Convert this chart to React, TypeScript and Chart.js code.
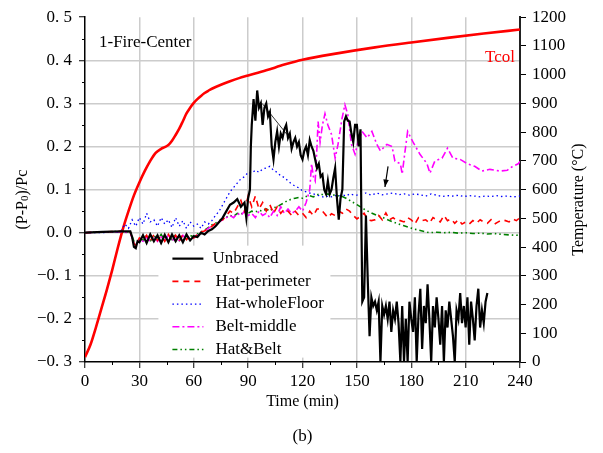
import { useEffect, useRef } from "react";
import { Chart, registerables } from "chart.js";

Chart.register(...registerables);

const FONT = "'Liberation Serif', 'Times New Roman', serif";

// ---------- data ----------
const unbracedT = [0, 10, 20, 25, 26, 27, 28, 29, 30, 32, 34, 36, 38, 40, 42, 44, 46, 48, 50, 52, 54, 56, 58, 60, 62, 64, 66, 68, 70, 72, 74, 76, 78, 80, 82, 84, 86, 88, 89, 90, 91, 91.5, 92, 93, 94, 95, 96, 97, 98, 99, 100, 101, 102, 103, 104, 105, 106, 107, 108, 109, 110, 111, 112, 113, 114, 115, 116, 117, 118, 119, 120, 121, 122, 123, 124, 125, 126, 127, 128, 129, 130, 131, 132, 133, 134, 135, 136, 137, 138, 139, 140, 141, 142, 143, 144, 145, 146, 147, 148, 149, 150, 151, 152, 152.5, 153, 154, 155, 156, 157, 158, 159, 160, 161, 162, 163, 164, 165, 166, 167, 168, 169, 170, 171, 172, 173, 174, 175, 176, 177, 178, 179, 180, 181, 182, 183, 184, 185, 186, 187, 188, 189, 190, 191, 192, 193, 194, 195, 196, 197, 198, 199, 200, 201, 202, 203, 204, 205, 206, 207, 208, 209, 210, 211, 212, 213, 214, 215, 216, 217, 218, 219, 220, 221, 222];
const unbracedP = [0.0, 0.002, 0.003, 0.003, -0.01, -0.033, -0.036, -0.02, -0.022, -0.006, -0.024, -0.004, -0.02, -0.006, -0.024, -0.005, -0.022, -0.004, -0.02, -0.006, -0.022, -0.004, -0.018, -0.008, -0.01, 0.0, -0.004, 0.004, 0.008, 0.015, 0.025, 0.035, 0.05, 0.065, 0.07, 0.078, 0.06, 0.07, 0.035, 0.08, 0.1, 0.2, 0.25, 0.31, 0.26, 0.33, 0.29, 0.3, 0.25, 0.29, 0.3, 0.27, 0.28, 0.2, 0.17, 0.21, 0.235, 0.2, 0.23, 0.22, 0.24, 0.25, 0.22, 0.23, 0.195, 0.21, 0.22, 0.2, 0.21, 0.18, 0.17, 0.19, 0.2, 0.18, 0.215, 0.2, 0.19, 0.17, 0.15, 0.16, 0.13, 0.135, 0.1, 0.09, 0.12, 0.09, 0.1, 0.127, 0.15, 0.08, 0.03, 0.08, 0.1, 0.258, 0.27, 0.26, 0.258, 0.23, 0.21, 0.25, 0.25, 0.2, 0.24, 0.03, -0.16, -0.15, 0.04, -0.11, -0.24, -0.15, -0.17, -0.16, -0.18, -0.16, -0.3, -0.17, -0.19, -0.17, -0.2, -0.16, -0.23, -0.18, -0.2, -0.16, -0.21, -0.3, -0.17, -0.3, -0.2, -0.3, -0.16, -0.2, -0.23, -0.15, -0.3, -0.19, -0.13, -0.27, -0.17, -0.21, -0.12, -0.2, -0.3, -0.17, -0.22, -0.15, -0.2, -0.26, -0.17, -0.3, -0.18, -0.22, -0.16, -0.2, -0.24, -0.3, -0.18, -0.2, -0.14, -0.21, -0.17, -0.22, -0.15, -0.26, -0.16, -0.2, -0.25, -0.17, -0.13, -0.22, -0.18, -0.21, -0.16, -0.14];

const perimT = [0, 10, 20, 25, 27, 28, 30, 32, 34, 36, 38, 40, 42, 44, 46, 48, 50, 52, 54, 56, 58, 60, 62, 64, 66, 68, 70, 72, 74, 76, 78, 80, 82, 84, 86, 88, 90, 92, 94, 96, 98, 100, 102, 104, 106, 108, 110, 112, 114, 116, 118, 120, 122, 124, 126, 128, 130, 132, 134, 136, 138, 140, 142, 144, 146, 148, 150, 152, 154, 156, 158, 160, 162, 164, 166, 168, 170, 172, 174, 176, 178, 180, 182, 184, 186, 188, 190, 192, 194, 196, 198, 200, 202, 204, 206, 208, 210, 212, 214, 216, 218, 220, 222, 224, 226, 228, 230, 232, 234, 236, 238, 240];
const perimP = [0.0, 0.002, 0.003, 0.002, -0.025, -0.03, -0.012, -0.018, -0.006, -0.02, -0.005, -0.018, -0.006, -0.02, -0.004, -0.018, -0.006, -0.02, -0.004, -0.016, -0.006, -0.012, -0.004, 0.002, 0.004, 0.01, 0.015, 0.022, 0.028, 0.03, 0.04, 0.05, 0.045, 0.06, 0.075, 0.05, 0.085, 0.06, 0.085, 0.055, 0.07, 0.05, 0.065, 0.045, 0.06, 0.045, 0.055, 0.05, 0.04, 0.05, 0.04, 0.045, 0.035, 0.05, 0.04, 0.055, 0.055, 0.045, 0.035, 0.044, 0.04, 0.05, 0.045, 0.055, 0.05, 0.04, 0.032, 0.038, 0.045, 0.03, 0.028, 0.03, 0.04, 0.03, 0.046, 0.03, 0.035, 0.028, 0.028, 0.025, 0.035, 0.03, 0.02, 0.035, 0.028, 0.03, 0.022, 0.035, 0.03, 0.025, 0.04, 0.028, 0.032, 0.022, 0.03, 0.02, 0.025, 0.02, 0.028, 0.022, 0.03, 0.025, 0.022, 0.03, 0.02, 0.025, 0.03, 0.028, 0.025, 0.032, 0.028, 0.035];

const wholeT = [0, 10, 18, 20, 22, 24, 26, 28, 30, 32, 34, 36, 38, 40, 42, 44, 46, 48, 50, 52, 54, 56, 58, 60, 62, 64, 66, 68, 70, 72, 74, 76, 78, 80, 82, 84, 86, 88, 90, 92, 94, 96, 98, 100, 102, 104, 106, 108, 110, 112, 114, 116, 118, 120, 122, 124, 126, 128, 130, 132, 134, 136, 138, 140, 142, 144, 146, 148, 150, 152, 155, 158, 161, 164, 167, 170, 173, 176, 179, 182, 185, 188, 191, 194, 197, 200, 203, 206, 209, 212, 215, 218, 221, 224, 227, 230, 233, 236, 240];
const wholeP = [0.0, 0.0, 0.002, 0.005, 0.02, 0.01, 0.03, 0.015, 0.035, 0.02, 0.045, 0.025, 0.03, 0.015, 0.035, 0.02, 0.03, 0.012, 0.035, 0.015, 0.028, 0.01, 0.025, 0.015, 0.02, 0.01, 0.025, 0.02, 0.028, 0.04, 0.05, 0.065, 0.08, 0.095, 0.105, 0.115, 0.125, 0.13, 0.14, 0.138, 0.145, 0.14, 0.148, 0.15, 0.154, 0.145, 0.14, 0.132, 0.128, 0.12, 0.113, 0.108, 0.104, 0.097, 0.095, 0.092, 0.09, 0.087, 0.085, 0.082, 0.085, 0.083, 0.086, 0.085, 0.088, 0.085, 0.09, 0.088, 0.087, 0.09, 0.092, 0.087, 0.092, 0.088, 0.09, 0.092, 0.088, 0.09, 0.087, 0.09, 0.088, 0.085, 0.09, 0.087, 0.084, 0.086, 0.085, 0.087, 0.084, 0.086, 0.085, 0.083, 0.085, 0.084, 0.086, 0.084, 0.085, 0.083, 0.085];

const beltT = [0, 10, 20, 25, 27, 28, 30, 32, 34, 36, 38, 40, 42, 44, 46, 48, 50, 52, 54, 56, 58, 60, 62, 64, 66, 68, 70, 72, 74, 76, 78, 80, 82, 84, 86, 88, 90, 92, 94, 96, 98, 100, 102, 104, 106, 108, 110, 112, 114, 116, 118, 120, 122, 124, 125, 126, 127, 128, 128.6, 129.7, 131, 132.4, 134, 136, 138, 139.6, 141.8, 143.4, 145, 147, 149, 150.6, 152.8, 155.6, 158.3, 161, 163, 166.6, 169.4, 171, 174, 175, 176.6, 178, 181, 184.8, 188.7, 190.3, 193, 197, 200, 203, 207, 211, 215, 219, 223.4, 229, 233, 236, 239, 240];
const beltP = [0.0, 0.002, 0.002, 0.0, -0.025, -0.03, -0.015, -0.02, -0.01, -0.02, -0.008, -0.02, -0.01, -0.018, -0.006, -0.02, -0.008, -0.018, -0.006, -0.016, -0.008, -0.012, -0.005, 0.0, 0.004, 0.01, 0.015, 0.02, 0.025, 0.03, 0.035, 0.04, 0.035, 0.045, 0.04, 0.05, 0.04, 0.045, 0.035, 0.05, 0.04, 0.045, 0.035, 0.05, 0.04, 0.06, 0.045, 0.055, 0.045, 0.05, 0.06, 0.05, 0.07, 0.1, 0.16, 0.13, 0.12, 0.2, 0.258, 0.21, 0.25, 0.276, 0.25, 0.228, 0.173, 0.205, 0.265, 0.297, 0.274, 0.205, 0.182, 0.21, 0.235, 0.22, 0.235, 0.205, 0.19, 0.205, 0.2, 0.166, 0.16, 0.136, 0.19, 0.235, 0.21, 0.182, 0.16, 0.138, 0.166, 0.173, 0.196, 0.173, 0.17, 0.16, 0.154, 0.143, 0.147, 0.143, 0.145, 0.154, 0.16, 0.165];

const hatBeltT = [0, 10, 20, 25, 27, 28, 30, 32, 34, 36, 38, 40, 42, 44, 46, 48, 50, 52, 54, 56, 58, 60, 62, 64, 66, 68, 70, 72, 74, 76, 78, 80, 82, 84, 86, 88, 90, 92, 94, 96, 98, 100, 102, 104, 106, 108, 110, 112, 114, 116, 118, 120, 122, 124, 126, 128, 130, 132, 134, 136, 138, 140, 142, 144, 146, 148, 150, 152, 155, 158, 161, 164, 167, 170, 173, 176, 179, 182, 185, 188, 190, 194, 198, 202, 206, 210, 214, 218, 222, 226, 230, 234, 238, 240];
const hatBeltP = [0.0, 0.002, 0.003, 0.002, -0.02, -0.028, -0.012, -0.018, -0.006, -0.02, -0.006, -0.016, -0.004, -0.018, -0.006, -0.016, -0.004, -0.018, -0.006, -0.014, -0.006, -0.01, -0.003, 0.002, 0.006, 0.012, 0.018, 0.022, 0.028, 0.032, 0.036, 0.04, 0.038, 0.045, 0.042, 0.05, 0.045, 0.05, 0.048, 0.052, 0.05, 0.055, 0.05, 0.058, 0.06, 0.065, 0.07, 0.075, 0.078, 0.08, 0.082, 0.08, 0.084, 0.086, 0.083, 0.088, 0.09, 0.087, 0.09, 0.086, 0.088, 0.085, 0.084, 0.08, 0.075, 0.07, 0.065, 0.06, 0.052, 0.046, 0.04, 0.036, 0.03, 0.025, 0.02, 0.016, 0.012, 0.008, 0.005, 0.002, 0.0, 0.001, 0.0, 0.001, -0.001, 0.0, -0.002, -0.001, -0.003, -0.002, -0.004, -0.005, -0.006, -0.005];

const tcolT = [0, 3, 6, 9, 12, 15, 18, 21, 24, 27, 30, 33, 36, 39, 42, 44, 46, 48, 50, 52, 54, 56, 58, 60, 62, 64, 66, 68, 70, 75, 80, 85, 90, 100, 110, 120, 140, 160, 180, 200, 220, 240];
const tcolV = [17, 60, 120, 185, 250, 320, 395, 465, 525, 580, 625, 665, 700, 728, 742, 748, 755, 770, 790, 812, 838, 865, 885, 902, 915, 926, 936, 944, 951, 965, 977, 988, 997, 1015, 1035, 1052, 1075, 1095, 1112, 1128, 1143, 1157];

const seriesNames = ["Unbraced", "Hat-perimeter", "Hat-wholeFloor", "Belt-middle", "Hat&Belt"];

// annotation arrows in data units: [t1, p1, t2, p2]
const arrowDown = [167.2, 0.154, 165.5, 0.106];
const thinLine = [97.7, 0.3, 111.4, 0.228];

const pts = (t: number[], v: number[]) => t.map((x, i) => ({ x, y: v[i] }));

const fmtLeft = (v: number) => {
  const n = Math.round(v * 10);
  return (n < 0 ? "\u22120. " : "0. ") + Math.abs(n);
};

const tickFont = { family: FONT, size: 17 };

const decor = {
  id: "decor",
  afterDraw(chart: any) {
    const ctx = chart.ctx as CanvasRenderingContext2D;
    const xs = chart.scales.x;
    const ys = chart.scales.y;
    const a = chart.chartArea;
    ctx.save();
    // minor ticks
    ctx.strokeStyle = "#000";
    ctx.lineWidth = 1;
    for (let k = -5; k < 10; k += 2) {
      const py = Math.round(ys.getPixelForValue(k * 0.05)) + 0.5;
      ctx.beginPath();
      ctx.moveTo(a.left - 3, py);
      ctx.lineTo(a.left, py);
      ctx.stroke();
    }
    for (let t = 15; t < 240; t += 30) {
      const px = Math.round(xs.getPixelForValue(t)) + 0.5;
      ctx.beginPath();
      ctx.moveTo(px, a.bottom);
      ctx.lineTo(px, a.bottom + 3);
      ctx.stroke();
    }
    // annotation lines
    const drawSeg = (s: number[], head: boolean) => {
      const x1 = xs.getPixelForValue(s[0]), y1 = ys.getPixelForValue(s[1]);
      const x2 = xs.getPixelForValue(s[2]), y2 = ys.getPixelForValue(s[3]);
      ctx.beginPath();
      ctx.moveTo(x1, y1);
      ctx.lineTo(x2, y2);
      ctx.stroke();
      if (head) {
        const ang = Math.atan2(y2 - y1, x2 - x1);
        const L = 8, W = 0.35;
        ctx.beginPath();
        ctx.moveTo(x2, y2);
        ctx.lineTo(x2 - L * Math.cos(ang - W), y2 - L * Math.sin(ang - W));
        ctx.lineTo(x2 - L * Math.cos(ang + W), y2 - L * Math.sin(ang + W));
        ctx.closePath();
        ctx.fillStyle = "#000";
        ctx.fill();
      }
    };
    ctx.lineWidth = 1.2;
    drawSeg(arrowDown, true);
    ctx.lineWidth = 0.8;
    drawSeg(thinLine, false);

    // texts
    ctx.fillStyle = "#000";
    ctx.font = `17px ${FONT}`;
    ctx.textBaseline = "alphabetic";
    ctx.textAlign = "left";
    ctx.fillText("1-Fire-Center", a.left + 14, a.top + 30);
    ctx.fillStyle = "#ff0000";
    ctx.textAlign = "right";
    ctx.fillText("Tcol", a.right - 5, a.top + 45);

    // x title and caption
    ctx.fillStyle = "#000";
    ctx.textAlign = "center";
    ctx.textBaseline = "middle";
    ctx.font = `16px ${FONT}`;
    const cx = (a.left + a.right) / 2;
    ctx.fillText("Time (min)", cx, a.bottom + 40);
    ctx.font = `17px ${FONT}`;
    ctx.fillText("(b)", cx, a.bottom + 75);

    // left title with subscript
    const cy = (a.top + a.bottom) / 2 + 10;
    ctx.save();
    ctx.translate(23, cy);
    ctx.rotate(-Math.PI / 2);
    ctx.textAlign = "left";
    ctx.textBaseline = "middle";
    const big = `16px ${FONT}`, small = `11px ${FONT}`;
    const parts: [string, string, number][] = [["(P-P", big, 0], ["0", small, 2], [")/Pc", big, 0]];
    let total = 0;
    parts.forEach(([s, f]) => { ctx.font = f; total += ctx.measureText(s).width; });
    let px = -total / 2;
    parts.forEach(([s, f, dy]) => { ctx.font = f; ctx.fillText(s, px, dy); px += ctx.measureText(s).width; });
    ctx.restore();

    // right title
    ctx.save();
    ctx.translate(579, cy);
    ctx.rotate(-Math.PI / 2);
    ctx.textAlign = "center";
    ctx.textBaseline = "middle";
    ctx.font = `16px ${FONT}`;
    ctx.fillText("Temperature (\u00B0C)", 0, 0);
    ctx.restore();

    // legend
    const lx = xs.getPixelForValue(40.5), ly = ys.getPixelForValue(-0.03);
    const boxW = 172, boxH = 112;
    ctx.fillStyle = "#fff";
    ctx.fillRect(lx, ly, boxW, boxH);
    ctx.textAlign = "left";
    ctx.textBaseline = "middle";
    ctx.font = `17px ${FONT}`;
    chart.data.datasets.forEach((ds: any, i: number) => {
      if (i >= seriesNames.length) return;
      const yy = ly + 13 + i * 22.7;
      ctx.strokeStyle = ds.borderColor;
      ctx.lineWidth = ds.borderWidth;
      ctx.setLineDash(ds.borderDash || []);
      ctx.beginPath();
      ctx.moveTo(lx + 14, yy);
      ctx.lineTo(lx + 45, yy);
      ctx.stroke();
      ctx.setLineDash([]);
      ctx.fillStyle = "#000";
      ctx.fillText(ds.label, lx + (i === 0 ? 54 : 57), yy);
    });
    ctx.restore();
  },
};

export default function App() {
  const ref = useRef<HTMLCanvasElement | null>(null);
  useEffect(() => {
    if (!ref.current) return;
    Chart.defaults.font.family = FONT;
    Chart.defaults.color = "#000";
    const gridCol = "#cccccc";
    const chart = new Chart(ref.current, {
      type: "line",
      data: {
        datasets: [
          { label: seriesNames[0], data: pts(unbracedT, unbracedP), borderColor: "#000000", borderWidth: 2.2, yAxisID: "y" },
          { label: seriesNames[1], data: pts(perimT, perimP), borderColor: "#ff0000", borderWidth: 1.6, borderDash: [6, 5], yAxisID: "y" },
          { label: seriesNames[2], data: pts(wholeT, wholeP), borderColor: "#0000ff", borderWidth: 1.3, borderDash: [1.5, 3], yAxisID: "y" },
          { label: seriesNames[3], data: pts(beltT, beltP), borderColor: "#ff00ff", borderWidth: 1.6, borderDash: [7, 3, 2, 3], yAxisID: "y" },
          { label: seriesNames[4], data: pts(hatBeltT, hatBeltP), borderColor: "#008000", borderWidth: 1.6, borderDash: [5, 3, 1.5, 3, 1.5, 3], yAxisID: "y" },
          { label: "Tcol", data: pts(tcolT, tcolV), borderColor: "#ff0000", borderWidth: 2.6, cubicInterpolationMode: "monotone", yAxisID: "y1" },
        ] as any,
      },
      options: {
        animation: false,
        responsive: false,
        events: [],
        font: { family: FONT },
        layout: { padding: { top: 15, left: 0, right: 0, bottom: 0 } },
        elements: { point: { radius: 0 }, line: { tension: 0 } },
        plugins: { legend: { display: false }, tooltip: { enabled: false } },
        scales: {
          x: {
            type: "linear",
            min: 0,
            max: 240,
            afterFit: (s: any) => { s.height = 91; },
            ticks: { stepSize: 30, font: tickFont, padding: 3, color: "#000", callback: (v: any) => String(v) },
            grid: {
              color: (c: any) => (c.tick && (c.tick.value === 0 || c.tick.value === 240) ? "rgba(0,0,0,0)" : gridCol),
              lineWidth: 1.5,
              tickColor: "#000",
              tickLength: 6,
              tickWidth: 1,
            },
            border: { color: "#000", width: 1.5 },
          },
          y: {
            type: "linear",
            position: "left",
            min: -0.3,
            max: 0.5,
            afterFit: (s: any) => { s.width = 85; },
            ticks: { stepSize: 0.1, font: tickFont, padding: 7, color: "#000", callback: (v: any) => fmtLeft(Number(v)) },
            grid: {
              color: (c: any) => (c.tick && (Math.abs(c.tick.value - 0.5) < 1e-6 || Math.abs(c.tick.value + 0.3) < 1e-6) ? "rgba(0,0,0,0)" : gridCol),
              lineWidth: 1.5,
              tickColor: "#000",
              tickLength: 6,
              tickWidth: 1,
            },
            border: { color: "#000", width: 1.5 },
          },
          y1: {
            type: "linear",
            position: "right",
            min: 0,
            max: 1200,
            afterFit: (s: any) => { s.width = 83; },
            ticks: { stepSize: 100, font: tickFont, padding: 6, color: "#000", callback: (v: any) => String(Math.round(Number(v))) },
            grid: { drawOnChartArea: false, tickColor: "#000", tickLength: 6, tickWidth: 1 },
            border: { color: "#222", width: 2 },
          },
        },
      } as any,
      plugins: [decor],
    });
    return () => chart.destroy();
  }, []);
  return (
    <div style={{ position: "absolute", left: 0, top: 0, width: 603, height: 453, background: "#fff" }}>
      <canvas ref={ref} width={603} height={453} style={{ display: "block", width: 603, height: 453 }} />
    </div>
  );
}
